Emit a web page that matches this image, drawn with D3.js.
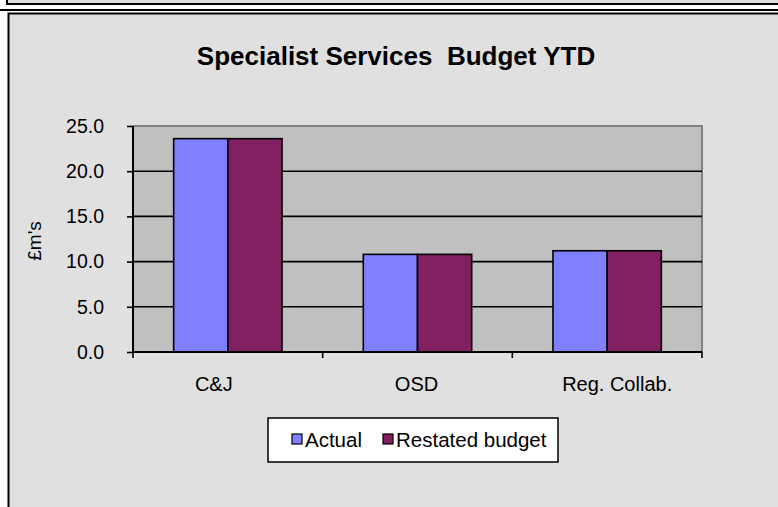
<!DOCTYPE html>
<html><head><meta charset="utf-8">
<script src="https://cdn.jsdelivr.net/npm/d3@7"></script>
<style>html,body{margin:0;padding:0;background:#fff;}svg{display:block;}</style>
</head><body>
<svg id="c" width="778" height="507"></svg>
<script>
const categories = ["C&J", "OSD", "Reg. Collab."];
const seriesNames = ["Actual", "Restated budget"];
const actual = [23.6, 10.8, 11.2];
const restated = [23.6, 10.8, 11.2];
const yTicks = [0, 5, 10, 15, 20, 25];
const colors = ["#8080ff", "#802060"];
const FONT = "Arial, 'Liberation Sans', sans-serif";
const labelDx = [-14, -1, 10];

const svg = d3.select("#c");
// previous chart remnant at top
svg.append("rect").attr("x", 7).attr("y", -5).attr("width", 790).attr("height", 9)
  .attr("fill", "#e0e0e0").attr("stroke", "#000").attr("stroke-width", 2);
svg.append("line").attr("x1", 0).attr("x2", 778).attr("y1", 10).attr("y2", 10)
  .attr("stroke", "#000").attr("stroke-width", 2);
// chart area box
svg.append("rect").attr("x", 8.5).attr("y", 13.5).attr("width", 800).attr("height", 520)
  .attr("fill", "#e0e0e0").attr("stroke", "#000").attr("stroke-width", 2);

const L = 133, R = 702, T = 126, B = 352;
const x0 = d3.scaleBand().domain(categories).range([L, R]).paddingInner(0).paddingOuter(0);
const x1 = d3.scaleBand().domain(seriesNames).range([0, x0.bandwidth()]).paddingInner(0).paddingOuter(0.75);
const y = d3.scaleLinear().domain([0, 25]).range([B, T]);

// plot area
svg.append("rect").attr("x", L).attr("y", T).attr("width", R - L).attr("height", B - T)
  .attr("fill", "#c0c0c0").attr("stroke", "#808080").attr("stroke-width", 2);

// gridlines
svg.append("g").selectAll("line").data(yTicks.filter(d => d > 0 && d < 25)).join("line")
  .attr("x1", L).attr("x2", R).attr("y1", d => y(d)).attr("y2", d => y(d))
  .attr("stroke", "#000").attr("stroke-width", 1.6);

// bars
const data = categories.map((c, i) => ({c, vals: [actual[i], restated[i]]}));
const g = svg.append("g");
data.forEach(d => {
  g.selectAll(null).data(d.vals.map((v, j) => ({v, s: seriesNames[j], j}))).join("rect")
    .attr("x", e => x0(d.c) + x1(e.s))
    .attr("y", e => y(e.v))
    .attr("width", x1.bandwidth())
    .attr("height", e => y(0) - y(e.v))
    .attr("fill", e => colors[e.j])
    .attr("stroke", "#000").attr("stroke-width", 1.6);
});

// y axis
const yAxis = d3.axisLeft(y).tickValues(yTicks).tickFormat(d3.format(".1f")).tickSize(6).tickPadding(23);
const ya = svg.append("g").attr("transform", `translate(${L},0)`).call(yAxis);
ya.select(".domain").attr("stroke", "#000").attr("stroke-width", 2).attr("d", `M0,${T}V${B}`);
ya.selectAll(".tick line").attr("stroke", "#000").attr("stroke-width", 1.6);
ya.selectAll("text").attr("font-family", FONT).attr("font-size", 19.5).attr("fill", "#000");

// x axis
const xa = svg.append("g").attr("transform", `translate(0,${B})`);
xa.append("line").attr("x1", L).attr("x2", R).attr("stroke", "#000").attr("stroke-width", 2);
const bounds = categories.map(c => x0(c)).concat([R]);
xa.selectAll(".tk").data(bounds).join("line").attr("class", "tk")
  .attr("x1", d => d).attr("x2", d => d).attr("y1", 0).attr("y2", 6)
  .attr("stroke", "#000").attr("stroke-width", 1.6);
xa.selectAll(".lb").data(categories).join("text").attr("class", "lb")
  .attr("x", (d, i) => x0(d) + x0.bandwidth() / 2 + labelDx[i]).attr("y", 39)
  .attr("text-anchor", "middle").attr("font-family", FONT).attr("font-size", 20)
  .text(d => d);

// y label
svg.append("text").attr("transform", "translate(41,241) rotate(-90)")
  .attr("text-anchor", "middle").attr("font-family", FONT).attr("font-size", 19).text("£m's");

// title
svg.append("text").attr("x", 396).attr("y", 65).attr("text-anchor", "middle")
  .attr("font-family", FONT).attr("font-size", 26).attr("font-weight", "bold")
  .attr("xml:space", "preserve").style("white-space", "pre")
  .text("Specialist Services  Budget YTD");

// legend
const lg = svg.append("g");
lg.append("rect").attr("x", 268).attr("y", 418).attr("width", 290).attr("height", 44)
  .attr("fill", "#fff").attr("stroke", "#000").attr("stroke-width", 1.5);
const lx = [292, 383];
seriesNames.forEach((s, i) => {
  lg.append("rect").attr("x", lx[i]).attr("y", 434).attr("width", 10).attr("height", 10)
    .attr("fill", colors[i]).attr("stroke", "#000").attr("stroke-width", 1.2);
  lg.append("text").attr("x", lx[i] + 13).attr("y", 447).attr("font-family", FONT)
    .attr("font-size", 20.5).text(s);
});
</script>
</body></html>
